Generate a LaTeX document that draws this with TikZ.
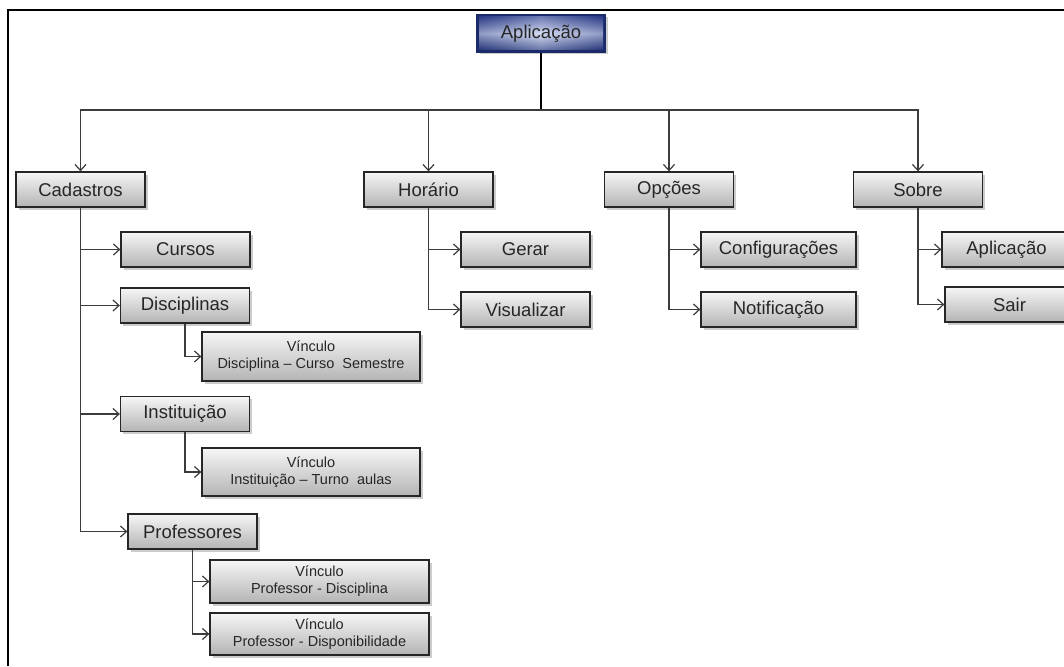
\documentclass[tikz,border=0pt]{standalone}
\usepackage{fontspec}
\setmainfont{Liberation Sans}
\usetikzlibrary{shadows,arrows.meta}
\definecolor{navy}{HTML}{1A2A6A}
\definecolor{edgeblue}{HTML}{2C3C86}
\definecolor{paleblue}{HTML}{C6D0EE}
\definecolor{lightblue}{HTML}{E0E6F6}
\definecolor{boxtop}{HTML}{F6F6F6}
\definecolor{boxbot}{HTML}{B4B4B4}
\definecolor{ink}{HTML}{262626}
\tikzset{
  menubox/.style={draw=ink, line width=1.3pt, top color=boxtop, bottom color=boxbot,
    minimum height=35pt, minimum width=129pt, inner sep=0pt, align=center,
    font=\fontsize{18.5}{21}\selectfont, text=ink,
    drop shadow={shadow xshift=2.5pt, shadow yshift=-2.5pt, opacity=0.4, fill=gray}},
  linkbox/.style={menubox, minimum width=218pt, font=\fontsize{14.5}{17}\selectfont},
  rootbox/.style={draw=navy, line width=1.3pt, fill=navy,
    minimum height=37pt, minimum width=128pt, inner sep=0pt,
    font=\fontsize{18.5}{21}\selectfont, text=ink,
    drop shadow={shadow xshift=2.5pt, shadow yshift=-2.5pt, opacity=0.4, fill=gray},
    path picture={
      % bevelled face: horizontal fade, then a vertical fade laid over it
      \shade[left color=edgeblue, right color=edgeblue, middle color=paleblue]
        ([shift={(2pt,2pt)}]path picture bounding box.south west)
        rectangle ([shift={(-2pt,-2pt)}]path picture bounding box.north east);
      \shade[top color=edgeblue, bottom color=navy, middle color=lightblue, opacity=0.55]
        ([shift={(2pt,2pt)}]path picture bounding box.south west)
        rectangle ([shift={(-2pt,-2pt)}]path picture bounding box.north east);
    }},
  link/.style={draw=ink!90, line width=1.2pt, -{Straight Barb[length=6pt,width=11pt]}},
  trunk/.style={draw=black, line width=2.2pt},
}
\begin{document}
\begin{tikzpicture}[x=1pt, y=-1pt]
\useasboundingbox (0,0) rectangle (1064,666);
\clip (0,0) rectangle (1064,666);
% outer frame
\draw[line width=2.2pt] (8,666) -- (8,10) -- (1064,10);

% root
\node[rootbox] (app) at (541,33.5) {Aplicação};

% first level
\node[menubox] (cad) at (80.5,189.5) {Cadastros};
\node[menubox] (hor) at (428.5,189.5) {Horário};
\node[menubox] (opc) at (669,189.5) {Opções};
\node[menubox] (sob) at (918,189.5) {Sobre};

% Cadastros branch
\node[menubox] (cur) at (185.5,249.5) {Cursos};
\node[menubox] (dis) at (185,305.5) {Disciplinas};
\node[linkbox, minimum height=49pt] (vdis) at (311,356.5) {Vínculo\\Disciplina – Curso\ \ Semestre};
\node[menubox] (ins) at (185,414) {Instituição};
\node[linkbox, minimum height=48pt] (vins) at (311,472) {Vínculo\\Instituição – Turno\ \ aulas};
\node[menubox] (pro) at (192.5,531.5) {Professores};
\node[linkbox, minimum width=219pt, minimum height=43pt] (vpd) at (319.5,581.5) {Vínculo\\Professor - Disciplina};
\node[linkbox, minimum width=219pt, minimum height=42pt] (vpa) at (319.5,634) {Vínculo\\Professor - Disponibilidade};

% Horário branch
\node[menubox] (ger) at (525.5,249.5) {Gerar};
\node[menubox] (vis) at (525.5,309.5) {Visualizar};

% Opções branch
\node[menubox, minimum width=155pt] (cfg) at (778.5,249.5) {Configurações};
\node[menubox, minimum width=155pt] (ntf) at (778.5,309.5) {Notificação};

% Sobre branch
\node[menubox] (sapl) at (1006.5,249.5) {Aplicação};
\node[menubox] (sair) at (1009.5,304.5) {Sair};

% bus level under the root
\coordinate (bus) at (541,110);
\draw[trunk] (app.south) -- (bus);
\foreach \t in {cad,hor,opc,sob}
  \draw[link] (bus) -| (\t.north);
\draw[line width=1.2pt, draw=ink!90] (cad.north |- bus) -- (sob.north |- bus);

% children connectors
\foreach \p/\c in {cad/cur, cad/dis, cad/ins, cad/pro, dis/vdis, ins/vins, pro/vpd, pro/vpa,
                   hor/ger, hor/vis, opc/cfg, opc/ntf, sob/sapl, sob/sair}
  \draw[link] (\p.south) |- (\c.west);
\end{tikzpicture}
\end{document}
